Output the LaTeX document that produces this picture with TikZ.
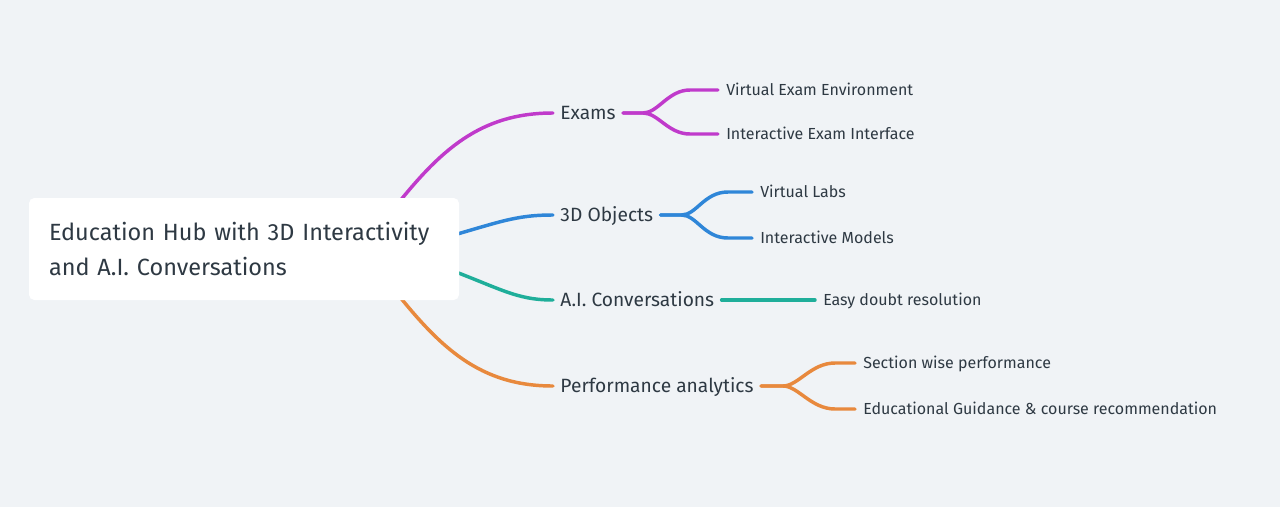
\documentclass[tikz,border=0pt]{standalone}
\usepackage{fontspec}
\setmainfont{Fira Sans}
\usetikzlibrary{calc}
\definecolor{bg}{HTML}{F0F3F6}
\definecolor{txt}{HTML}{2E3943}
\definecolor{cpurple}{HTML}{C03ACB}
\definecolor{cblue}{HTML}{2F86D8}
\definecolor{cteal}{HTML}{1FAE9A}
\definecolor{corange}{HTML}{E8893D}
\begin{document}
\begin{tikzpicture}[x=0.75pt,y=-0.75pt,
  link/.style={line width=2.6pt,line cap=round},
  hubbox/.style={fill=white,rounded corners=4pt,text=txt,align=left,
    text width=292.5pt,inner xsep=15pt,minimum height=76.5pt,
    font=\fontsize{17.6}{26.25}\selectfont},
  lvlone/.style={anchor=west,text=txt,inner xsep=5.4pt,inner ysep=0pt,
    text height=10pt,text depth=0pt,
    font=\fontsize{14.4}{17}\selectfont},
  lvltwo/.style={anchor=west,text=txt,inner xsep=6pt,inner ysep=0pt,
    text height=8.4pt,text depth=0pt,
    font=\fontsize{12}{14}\selectfont}
]
\useasboundingbox (0,0) rectangle (1280,507);
\fill[bg] (0,0) rectangle (1280,507);

% level one nodes
\node[lvlone] (exams) at (553,113) {Exams};
\node[lvlone] (obj) at (553,215) {3D Objects};
\node[lvlone] (ai) at (553,300) {A.I. Conversations};
\node[lvlone] (perf) at (553,386) {Performance analytics};

% level two nodes
\node[lvltwo] (vee) at (718,90) {Virtual Exam Environment};
\node[lvltwo] (iei) at (718,134) {Interactive Exam Interface};
\node[lvltwo] (vl) at (752,192) {Virtual Labs};
\node[lvltwo] (im) at (752,238) {Interactive Models};
\node[lvltwo] (edr) at (815,300) {Easy doubt resolution};
\node[lvltwo] (swp) at (855,363) {Section wise performance};
\node[lvltwo] (egc) at (855,409) {Educational Guidance \& course recommendation};

% hub start coordinates (hidden under the box)
\coordinate (hubA) at (392,211);
\coordinate (hubB) at (440,239);
\coordinate (hubC) at (440,266);
\coordinate (hubD) at (392,287);

% hub to level one
\draw[link,cpurple] (hubA) .. controls (440,150) and (480,113) .. (exams.west);
\draw[link,cblue] (hubB) .. controls (500,222) and (515,215) .. (obj.west);
\draw[link,cteal] (hubC) .. controls (500,288) and (515,300) .. (ai.west);
\draw[link,corange] (hubD) .. controls (440,348) and (480,386) .. (perf.west);

% level one to level two
\draw[link,cpurple] (exams.east) -- ++(20,0) .. controls +(15,0) and +(-22,0) .. ($(vee.west)+(-28,0)$) -- (vee.west);
\draw[link,cpurple] (exams.east) -- ++(20,0) .. controls +(15,0) and +(-22,0) .. ($(iei.west)+(-28,0)$) -- (iei.west);
\draw[link,cblue] (obj.east) -- ++(21,0) .. controls +(15,0) and +(-24,0) .. ($(vl.west)+(-24,0)$) -- (vl.west);
\draw[link,cblue] (obj.east) -- ++(21,0) .. controls +(15,0) and +(-24,0) .. ($(im.west)+(-24,0)$) -- (im.west);
\draw[link,cteal] (ai.east) -- (edr.west);
\draw[link,corange] (perf.east) -- ++(22,0) .. controls +(15,0) and +(-24,0) .. ($(swp.west)+(-20,0)$) -- (swp.west);
\draw[link,corange] (perf.east) -- ++(22,0) .. controls +(15,0) and +(-24,0) .. ($(egc.west)+(-20,0)$) -- (egc.west);

% hub box
\node[hubbox] (hub) at (244,249) {Education Hub with 3D Interactivity\\and A.I. Conversations};
\end{tikzpicture}
\end{document}
